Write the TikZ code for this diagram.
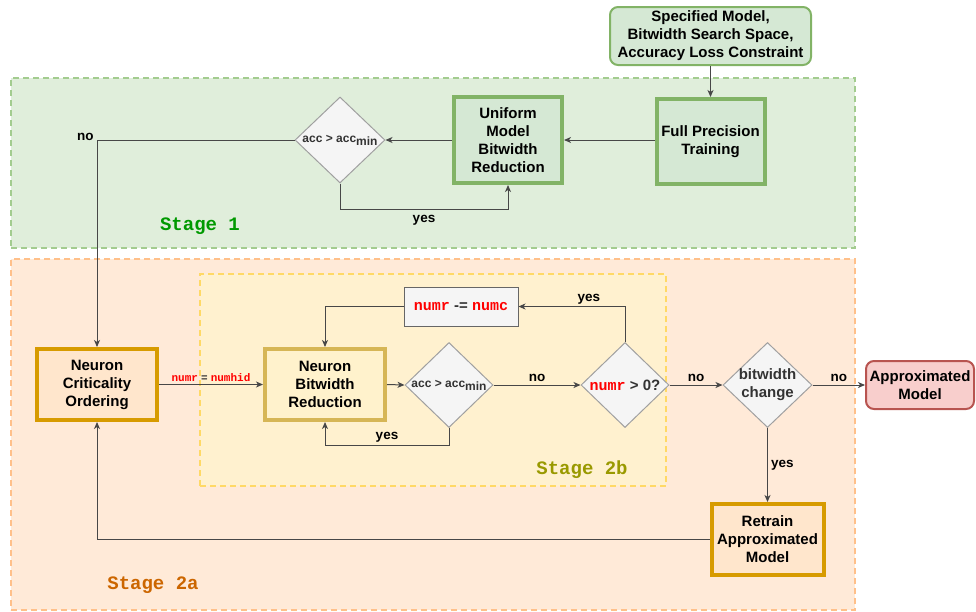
\documentclass[tikz,border=0pt]{standalone}
\usepackage{fontspec}
\setmainfont{Liberation Sans}
\setmonofont{Liberation Mono}
\usetikzlibrary{shapes.geometric,arrows.meta}

% palette
\definecolor{sOneFill}{HTML}{E0EEDB}
\definecolor{sOneLine}{HTML}{A3CC8F}
\definecolor{sTwoAFill}{HTML}{FFEAD8}
\definecolor{sTwoALine}{HTML}{FFC08A}
\definecolor{sTwoBFill}{HTML}{FFF1CF}
\definecolor{sTwoBLine}{HTML}{FFD966}
\definecolor{greenFill}{HTML}{D5E8D4}
\definecolor{greenLine}{HTML}{82B366}
\definecolor{orangeFill}{HTML}{FFE6CC}
\definecolor{orangeLine}{HTML}{D79B00}
\definecolor{yellowFill}{HTML}{FFF2CC}
\definecolor{yellowLine}{HTML}{D6B656}
\definecolor{redFill}{HTML}{F8CECC}
\definecolor{redLine}{HTML}{B85450}
\definecolor{greyFill}{HTML}{F5F5F5}
\definecolor{greyLine}{HTML}{A0A0A0}
\definecolor{darkText}{HTML}{333333}
\definecolor{codeRed}{HTML}{FF0000}
\definecolor{stageOneText}{HTML}{009900}
\definecolor{stageTwoAText}{HTML}{CC6600}
\definecolor{stageTwoBText}{HTML}{999900}

\newcommand{\mainfs}{\fontsize{15}{18}\selectfont\bfseries}
\newcommand{\codeword}[1]{{\ttfamily\bfseries\color{codeRed}#1}}

\tikzset{
  stagebox/.style={draw, line width=1.5pt, dash pattern=on 6pt off 4pt},
  stagelabel/.style={font=\fontsize{19}{22}\selectfont\ttfamily\bfseries},
  procbox/.style={draw, line width=4pt, align=center, inner sep=0pt,
    font=\mainfs, text=black},
  roundbox/.style={draw, line width=2pt, rounded corners=8pt, align=center,
    inner sep=0pt, font=\mainfs, text=black},
  decision/.style={diamond, draw=greyLine, fill=greyFill, line width=1pt,
    inner sep=0pt, aspect=1},
  dtext/.style={font=\fontsize{12}{14}\selectfont\bfseries, text=darkText, align=center},
  dtextbig/.style={font=\mainfs, text=darkText, align=center},
  conn/.style={draw=darkText!90, line width=1pt,
    -{Stealth[length=7pt,width=6pt,inset=2pt]}},
  elabel/.style={font=\fontsize{13.5}{16}\selectfont\bfseries, text=black, inner sep=2pt},
}

\begin{document}
\begin{tikzpicture}[x=1pt,y=-1pt]
\useasboundingbox (0,0) rectangle (976,611);

% stage regions
\node (stA) [stagebox, draw=sTwoALine, fill=sTwoAFill, minimum width=844pt,
  minimum height=351pt] at (433,434.5) {};
\node (stB) [stagebox, draw=sTwoBLine, fill=sTwoBFill, minimum width=466pt,
  minimum height=212pt] at (433,380) {};
\node (stOne) [stagebox, draw=sOneLine, fill=sOneFill, minimum width=844pt,
  minimum height=170pt] at (433,163) {};

\node[stagelabel, text=stageOneText] (lblOne) at (200,226) {Stage 1};
\node[stagelabel, text=stageTwoBText] (lblTwoB) at (582,470) {Stage 2b};
\node[stagelabel, text=stageTwoAText] (lblTwoA) at (153,585) {Stage 2a};

% stage 1 blocks
\node (spec) [roundbox, draw=greenLine, fill=greenFill, minimum width=201pt,
  minimum height=58pt] at (710.5,36)
  {Specified Model,\\Bitwidth Search Space,\\Accuracy Loss Constraint};
\node (fpt) [procbox, draw=greenLine, fill=greenFill, minimum width=108pt,
  minimum height=85pt] at (710.5,141.5) {Full Precision\\Training};
\node (uni) [procbox, draw=greenLine, fill=greenFill, minimum width=108pt,
  minimum height=86pt] at (508,140) {Uniform\\Model\\Bitwidth\\Reduction};
\node (qOne) [decision, minimum width=90pt, minimum height=86pt] at (340,140) {};
\node[dtext] at (qOne.center) {acc > acc\raisebox{-3pt}{min}};

% stage 2 blocks
\node (nco) [procbox, draw=orangeLine, fill=orangeFill, minimum width=120pt,
  minimum height=71pt] at (97,384.5) {Neuron\\Criticality\\Ordering};
\node (nbr) [procbox, draw=yellowLine, fill=yellowFill, minimum width=120pt,
  minimum height=71pt] at (325,384.5) {Neuron\\Bitwidth\\Reduction};
\node (qTwo) [decision, minimum width=88pt, minimum height=85pt] at (449,385) {};
\node[dtext] at (qTwo.center) {acc > acc\raisebox{-3pt}{min}};
\node (numc) [draw=black!60, fill=greyFill, line width=1pt, minimum width=114pt,
  minimum height=39pt, inner sep=0pt, font=\mainfs, text=darkText] at (461,306.5)
  {\codeword{numr} -= \codeword{numc}};
\node (qThree) [decision, minimum width=88pt, minimum height=85pt] at (625,385) {};
\node[dtextbig] at (qThree.center) {\codeword{numr} > 0?};
\node (bc) [decision, minimum width=89pt, minimum height=85pt] at (767.5,385) {};
\node[dtextbig] at (bc.center) {bitwidth\\change};
\node (approx) [roundbox, draw=redLine, fill=redFill, minimum width=108pt,
  minimum height=48pt] at (920,385) {Approximated\\Model};
\node (ret) [procbox, draw=orangeLine, fill=orangeFill, minimum width=112pt,
  minimum height=71pt] at (767.5,539.5) {Retrain\\Approximated\\Model};

% stage 1 flow
\draw[conn] (spec.south) -- (spec.south |- fpt.north);
\draw[conn] (fpt.west |- uni.east) -- (uni.east);
\draw[conn] (uni.west) -- (qOne.east);
\draw[conn] (qOne.south) -- ++(0,26) -| node[elabel, pos=0.25, below, yshift=-3pt] {yes} (uni.south);
\draw[conn] (qOne.west) -| node[elabel, pos=0.5, anchor=east, xshift=-1pt, yshift=3pt] {no} (nco.north);

% stage 2 flow
\draw[conn] (nco.east) -- node[above, inner sep=2pt, pos=0.5,
  font=\fontsize{11}{13}\selectfont\bfseries, text=darkText]
  {\codeword{numr} {\ttfamily=} \codeword{numhid}} (nbr.west);
\draw[conn] (nbr.east) -- (qTwo.west);
\draw[conn] (qTwo.south) -- ++(0,17) -| node[elabel, pos=0.25, above] {yes} (nbr.south);
\draw[conn] (qTwo.east) -- node[elabel, above, yshift=1pt] {no} (qThree.west);
\draw[conn] (qThree.north) |- node[elabel, pos=0.67, above] {yes} (numc.east);
\draw[conn] (numc.west) -| (nbr.north);
\draw[conn] (qThree.east) -- node[elabel, above, yshift=1pt] {no} (bc.west);
\draw[conn] (bc.east) -- node[elabel, above, yshift=1pt] {no} (approx.west);
\draw[conn] (bc.south) -- node[elabel, right, xshift=1pt] {yes} (ret.north);
\draw[conn] (ret.west) -| (nco.south);

\end{tikzpicture}
\end{document}
